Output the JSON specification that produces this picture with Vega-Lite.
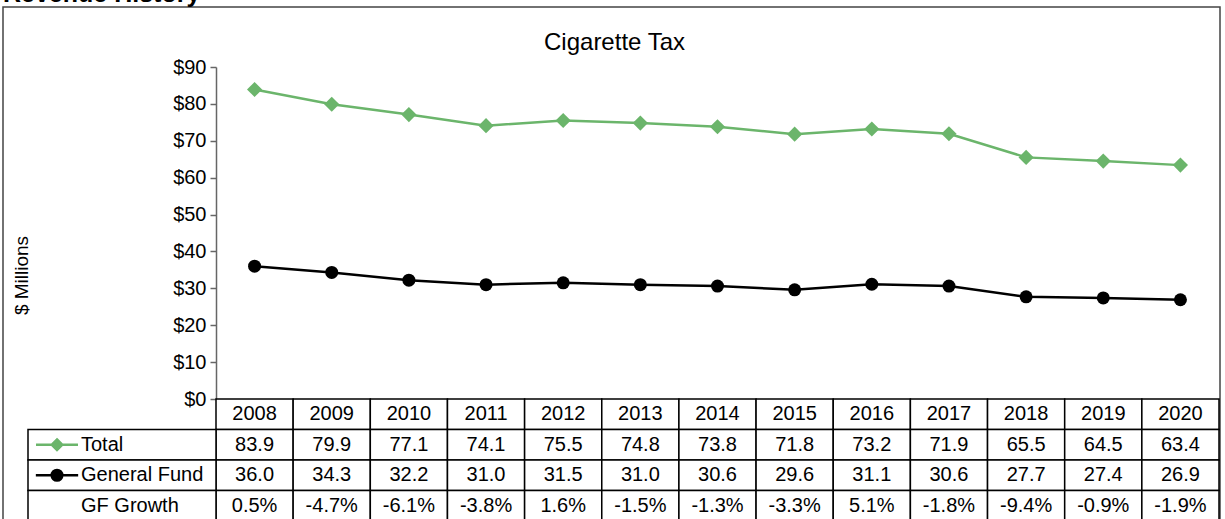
{
  "$schema": "https://vega.github.io/schema/vega-lite/v6.json",
  "width": 1217,
  "height": 513,
  "autosize": {"type": "none"},
  "padding": {"left": 3, "top": 7, "right": 5, "bottom": -1},
  "config": {
    "font": "Liberation Sans",
    "view": {"stroke": "#444444", "strokeWidth": 1.5},
    "text": {"font": "Liberation Sans"}
  },
  "title": {
    "text": "Revenue History",
    "anchor": "start",
    "frame": "group",
    "fontSize": 25,
    "fontWeight": "bold",
    "color": "#000000",
    "baseline": "alphabetic",
    "offset": 0,
    "dy": 20
  },
  "datasets": {
    "main": [
      {"year": "2008", "total": 83.9, "gf": 36.0, "growth": "0.5%"},
      {"year": "2009", "total": 79.9, "gf": 34.3, "growth": "-4.7%"},
      {"year": "2010", "total": 77.1, "gf": 32.2, "growth": "-6.1%"},
      {"year": "2011", "total": 74.1, "gf": 31.0, "growth": "-3.8%"},
      {"year": "2012", "total": 75.5, "gf": 31.5, "growth": "1.6%"},
      {"year": "2013", "total": 74.8, "gf": 31.0, "growth": "-1.5%"},
      {"year": "2014", "total": 73.8, "gf": 30.6, "growth": "-1.3%"},
      {"year": "2015", "total": 71.8, "gf": 29.6, "growth": "-3.3%"},
      {"year": "2016", "total": 73.2, "gf": 31.1, "growth": "5.1%"},
      {"year": "2017", "total": 71.9, "gf": 30.6, "growth": "-1.8%"},
      {"year": "2018", "total": 65.5, "gf": 27.7, "growth": "-9.4%"},
      {"year": "2019", "total": 64.5, "gf": 27.4, "growth": "-0.9%"},
      {"year": "2020", "total": 63.4, "gf": 26.9, "growth": "-1.9%"}
    ],
    "labels": [
      {"col": "Series", "row": "total", "label": "Total"},
      {"col": "Series", "row": "gf", "label": "General Fund"},
      {"col": "Series", "row": "growth", "label": "GF Growth"}
    ]
  },
  "layer": [
    {
      "data": {"name": "main"},
      "encoding": {
        "x": {
          "field": "year",
          "type": "ordinal",
          "scale": {"type": "point", "padding": 0.5, "range": [213, 1216]},
          "axis": {
            "orient": "top",
            "labels": false,
            "ticks": false,
            "domain": false,
            "title": "Cigarette Tax",
            "titleFontSize": 24,
            "titleFontWeight": "normal",
            "titleColor": "#000000",
            "titleX": 611,
            "titleY": 35,
            "titleBaseline": "middle",
            "titleAlign": "center"
          }
        }
      },
      "layer": [
        {
          "mark": {"type": "line", "color": "#6BB56B", "strokeWidth": 2.5},
          "encoding": {
            "y": {
              "field": "total",
              "type": "quantitative",
              "title": "$ Millions",
              "scale": {"domain": [0, 90], "range": [392, 60], "nice": false},
              "axis": {
                "orient": "left",
                "offset": -213,
                "values": [0, 10, 20, 30, 40, 50, 60, 70, 80, 90],
                "format": "$.0f",
                "grid": false,
                "labelFontSize": 20,
                "labelColor": "#000000",
                "labelPadding": 4,
                "tickSize": 6,
                "tickColor": "#666666",
                "tickWidth": 1.5,
                "domainColor": "#666666",
                "domainWidth": 1.5,
                "titleFontSize": 19,
                "titleFontWeight": "normal",
                "titleColor": "#000000",
                "titleX": -195,
                "titleY": 268,
                "titleAngle": -90,
                "titleBaseline": "middle",
                "titleAlign": "center"
              }
            }
          }
        },
        {
          "mark": {"type": "point", "shape": "diamond", "filled": true, "color": "#6BB56B", "size": 230, "opacity": 1},
          "encoding": {"y": {"field": "total", "type": "quantitative", "title": "$ Millions"}}
        },
        {
          "mark": {"type": "line", "color": "#000000", "strokeWidth": 2.5},
          "encoding": {"y": {"field": "gf", "type": "quantitative", "title": "$ Millions"}}
        },
        {
          "mark": {"type": "point", "shape": "circle", "filled": true, "color": "#000000", "size": 169, "opacity": 1},
          "encoding": {"y": {"field": "gf", "type": "quantitative", "title": "$ Millions"}}
        }
      ]
    },
    {
      "data": {"name": "main"},
      "encoding": {
        "x": {
          "field": "year",
          "type": "ordinal",
          "scale": {"type": "band", "paddingInner": 0, "paddingOuter": 0, "range": [213, 1216]},
          "axis": null
        }
      },
      "layer": [
        {
          "transform": [{"fold": ["year", "total", "gf", "growth"], "as": ["row", "val"]}],
          "mark": {"type": "rect", "fill": "#ffffff", "stroke": "#000000", "strokeWidth": 1.5},
          "encoding": {
            "y": {
              "field": "row",
              "type": "nominal",
              "scale": {"domain": ["year", "total", "gf", "growth"], "range": [392, 514], "paddingInner": 0, "paddingOuter": 0},
              "axis": null
            }
          }
        },
        {
          "mark": {"type": "text", "fontSize": 20, "baseline": "middle", "align": "center", "color": "#000000"},
          "encoding": {"y": {"datum": "year", "type": "nominal"}, "text": {"field": "year"}}
        },
        {
          "mark": {"type": "text", "fontSize": 20, "baseline": "middle", "align": "center", "color": "#000000"},
          "encoding": {"y": {"datum": "total", "type": "nominal"}, "text": {"field": "total", "type": "quantitative", "format": ".1f"}}
        },
        {
          "mark": {"type": "text", "fontSize": 20, "baseline": "middle", "align": "center", "color": "#000000"},
          "encoding": {"y": {"datum": "gf", "type": "nominal"}, "text": {"field": "gf", "type": "quantitative", "format": ".1f"}}
        },
        {
          "mark": {"type": "text", "fontSize": 20, "baseline": "middle", "align": "center", "color": "#000000"},
          "encoding": {"y": {"datum": "growth", "type": "nominal"}, "text": {"field": "growth"}}
        }
      ]
    },
    {
      "data": {"name": "labels"},
      "encoding": {
        "x": {
          "field": "col",
          "type": "nominal",
          "scale": {"type": "band", "paddingInner": 0, "paddingOuter": 0, "range": [25, 213]},
          "axis": null
        },
        "y": {
          "field": "row",
          "type": "nominal",
          "scale": {"domain": ["year", "total", "gf", "growth"], "range": [392, 514], "paddingInner": 0, "paddingOuter": 0},
          "axis": null
        }
      },
      "layer": [
        {
          "mark": {"type": "rect", "fill": "#ffffff", "stroke": "#000000", "strokeWidth": 1.5}
        },
        {
          "mark": {"type": "text", "fontSize": 20, "baseline": "middle", "align": "left", "dx": 53, "color": "#000000"},
          "encoding": {
            "x": {"field": "col", "type": "nominal", "bandPosition": 0},
            "text": {"field": "label"}
          }
        },
        {
          "transform": [{"filter": "datum.row === 'total'"}],
          "mark": {
            "type": "point",
            "shape": "M-4,0H4M0,-1L1,0L0,1L-1,0Z",
            "size": 110,
            "filled": true,
            "fill": "#6BB56B",
            "stroke": "#6BB56B",
            "strokeWidth": 2.5,
            "opacity": 1,
            "xOffset": 29
          },
          "encoding": {"x": {"field": "col", "type": "nominal", "bandPosition": 0}}
        },
        {
          "transform": [{"filter": "datum.row === 'gf'"}],
          "mark": {
            "type": "point",
            "shape": "M-4,0H4M1,0A1,1,0,1,1,-1,0A1,1,0,1,1,1,0Z",
            "size": 112,
            "filled": true,
            "fill": "#000000",
            "stroke": "#000000",
            "strokeWidth": 2.5,
            "opacity": 1,
            "xOffset": 29
          },
          "encoding": {"x": {"field": "col", "type": "nominal", "bandPosition": 0}}
        }
      ]
    }
  ],
  "resolve": {
    "scale": {"x": "independent", "y": "independent"},
    "axis": {"x": "independent", "y": "independent"}
  }
}
